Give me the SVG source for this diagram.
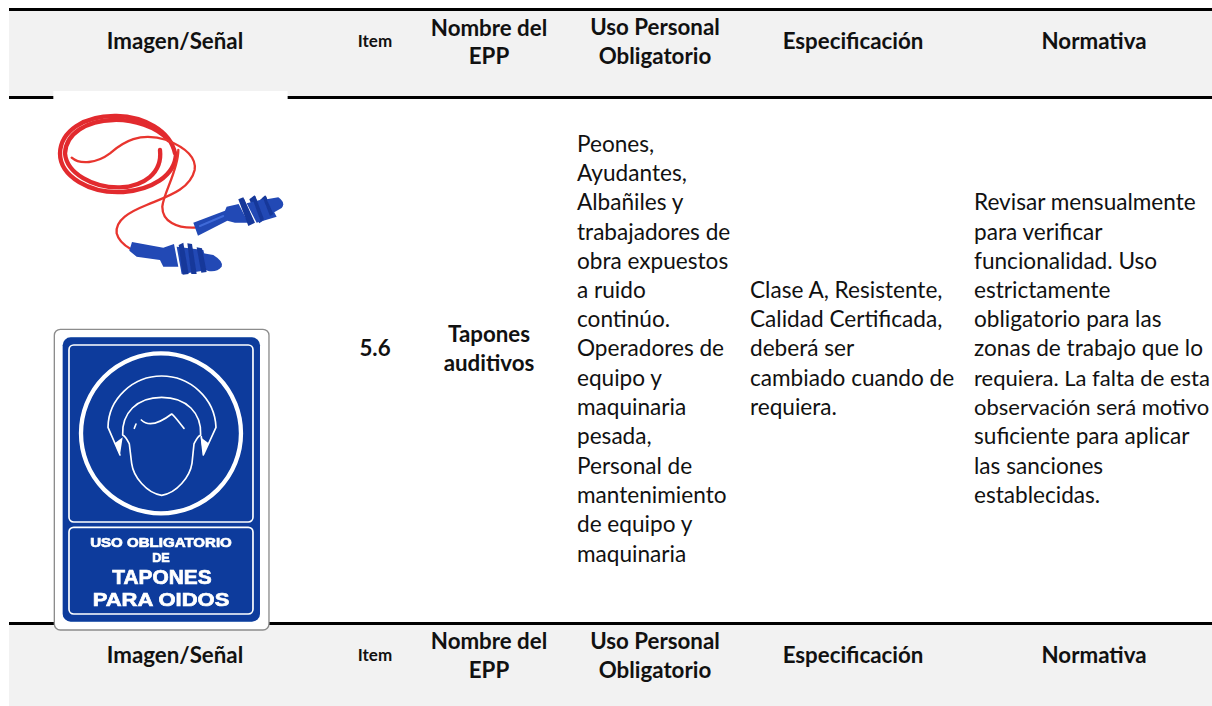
<svg xmlns="http://www.w3.org/2000/svg" width="1212" height="706" viewBox="0 0 1212 706">
<style>
text{font-family:"Lato","Open Sans","Liberation Sans",sans-serif;fill:#111}
.h{font-size:22.3px;font-weight:700;text-anchor:middle}
.s{font-size:17px;font-weight:700;text-anchor:middle}
.b{font-size:22.6px}
.b2{font-size:22px}
.band{fill:#f2f2f2}
.rule{fill:#000}
.cord{fill:none;stroke:#e22a2e;stroke-width:13;stroke-linecap:round}
.cord2{fill:none;stroke:#e8352f;stroke-width:7;stroke-linecap:round}
.plug{fill:#2148b5}
.rib{fill:#18389a}
.hi{fill:none;stroke:#3f6ad8;stroke-width:6;stroke-linecap:round}
.line{fill:none;stroke:#fff;stroke-width:5;stroke-linecap:round;stroke-linejoin:round}
.sg{font-weight:700;fill:#fff;stroke:#fff;stroke-width:2;text-anchor:middle;font-family:"Liberation Sans",sans-serif}
</style>
<defs>
<filter id="soft" x="-5%" y="-5%" width="110%" height="110%"><feGaussianBlur stdDeviation="1.5"/></filter>
<filter id="soft2" x="-2%" y="-2%" width="104%" height="104%"><feGaussianBlur stdDeviation="1"/></filter>
</defs>
<rect width="1212" height="706" fill="#fff"/>
<g id="header-top">
<rect class="band" x="9" y="11" width="1203" height="86"/>
<rect class="rule" x="9" y="8" width="1203" height="3"/>
<rect class="rule" x="9" y="96" width="1203" height="3"/>
<text class="h" x="175" y="49">Imagen/Señal</text>
<text class="s" x="375" y="47">Item</text>
<text class="h" x="489" y="36">Nombre del</text>
<text class="h" x="489" y="64">EPP</text>
<text class="h" x="655" y="35">Uso Personal</text>
<text class="h" x="655" y="64">Obligatorio</text>
<text class="h" x="853" y="49">Especificación</text>
<text class="h" x="1094" y="49">Normativa</text>
</g>
<g id="header-bottom">
<rect class="band" x="9" y="624" width="1203" height="82"/>
<rect class="rule" x="9" y="622" width="1203" height="3"/>
<text class="h" x="175" y="663">Imagen/Señal</text>
<text class="s" x="375" y="661">Item</text>
<text class="h" x="489" y="649">Nombre del</text>
<text class="h" x="489" y="678">EPP</text>
<text class="h" x="655" y="649">Uso Personal</text>
<text class="h" x="655" y="678">Obligatorio</text>
<text class="h" x="853" y="663">Especificación</text>
<text class="h" x="1094" y="663">Normativa</text>
</g>
<g id="earplugs" transform="translate(0,90) scale(0.3333)">
<rect x="160" y="3" width="703" height="646" fill="#fff"/>
<g filter="url(#soft)">
<path class="cord" d="M525,190C510,120 430,80 350,78C250,76 182,125 180,190C180,260 270,312 370,306C450,300 526,260 528,190"/>
<path class="cord" d="M505,150C470,110 400,88 340,90C260,92 198,130 195,190C200,250 280,294 360,292C430,289 488,250 480,180"/>
<path class="cord2" d="M215,203C240,225 290,220 330,190C370,155 420,125 500,150C550,170 590,200 584,240C570,300 500,320 440,345C390,365 345,390 350,430C355,450 370,465 392,477"/>
<path class="cord2" d="M535,180C535,240 490,310 487,350C487,395 530,415 585,413"/>
<path class="plug" d="M580,398L675,362L680,350L716,342L745,398L705,398L682,392L594,437Z"/>
<path class="rib" d="M715,328L730,322L765,398L745,408Z"/>
<path class="rib" d="M748,328L764,316L795,388L778,400Z"/>
<path class="rib" d="M780,330L796,316L824,376L805,385Z"/>
<path class="plug" d="M740,340L800,325L830,380L770,398Z"/>
<path class="rib" d="M722,330L732,326L762,396L750,402Z"/>
<path class="rib" d="M756,322L766,318L792,388L782,394Z"/>
<path class="rib" d="M788,322L798,318L820,372L810,378Z"/>
<path class="plug" d="M800,328L835,322Q858,338 845,354L820,368Z"/>
<path class="hi" d="M600,408L670,378"/>
<path class="plug" d="M388,482L396,456L490,473L522,462L535,530L490,530L480,510L410,500Z"/>
<path class="plug" d="M530,470L610,480L625,540L545,552Z"/>
<path class="rib" d="M536,465L550,458L566,552L548,554Z"/>
<path class="rib" d="M562,460L576,462L590,552L574,552Z"/>
<path class="rib" d="M590,472L606,475L620,546L604,548Z"/>
<path class="plug" d="M610,490L640,495Q672,515 665,530Q650,548 622,542Z"/>
</g>
</g>
<g id="sign" transform="translate(40,320) scale(0.3333)">
<rect x="43" y="28" width="644" height="902" rx="18" fill="#fff" stroke="#8c8c8c" stroke-width="4"/>
<g filter="url(#soft2)">
<rect x="68" y="52" width="592" height="853" rx="24" fill="#083a9c"/>
<rect x="87" y="75" width="552" height="531" rx="14" fill="none" stroke="#fff" stroke-width="5"/>
<rect x="87" y="622" width="552" height="260" rx="14" fill="none" stroke="#fff" stroke-width="5"/>
<circle cx="363" cy="340" r="240" fill="none" stroke="#fff" stroke-width="13"/>
<path class="line" d="M240,405L204,322C205,235 280,168 365,168C450,168 525,235 528,322L490,405L484,350"/>
<path d="M240,405L224,370L248,352Z M490,405L506,370L482,352Z" fill="#fff"/>
<path class="line" d="M248,345C258,350 262,360 268,372L275,430C280,470 320,520 365,526C410,520 450,470 456,430L462,372C468,360 472,350 482,345C485,280 440,232 365,232C290,232 245,280 248,345Z"/>
<path class="line" d="M304,300C330,325 365,305 395,282C410,295 420,312 432,325"/>
<path class="line" d="M283,325L288,312"/>
<text class="sg" x="363" y="681" font-size="38" textLength="425" lengthAdjust="spacingAndGlyphs">USO OBLIGATORIO</text>
<text class="sg" x="363" y="727" font-size="38">DE</text>
<text class="sg" x="366" y="793" font-size="58" textLength="298" lengthAdjust="spacingAndGlyphs">TAPONES</text>
<text class="sg" x="363" y="858" font-size="56" textLength="410" lengthAdjust="spacingAndGlyphs">PARA OIDOS</text>
</g>
</g>
<g id="row-item">
<text class="h" x="375" y="356">5.6</text>
<text class="h" x="489" y="342">Tapones</text>
<text class="h" x="489" y="371">auditivos</text>
</g>
<g id="col-uso">
<text class="b" x="577" y="152">Peones,</text>
<text class="b" x="577" y="181">Ayudantes,</text>
<text class="b" x="577" y="210">Albañiles y</text>
<text class="b" x="577" y="240">trabajadores de</text>
<text class="b" x="577" y="269">obra expuestos</text>
<text class="b" x="577" y="298">a ruido</text>
<text class="b" x="577" y="327">continúo.</text>
<text class="b" x="577" y="356">Operadores de</text>
<text class="b" x="577" y="386">equipo y</text>
<text class="b" x="577" y="415">maquinaria</text>
<text class="b" x="577" y="444">pesada,</text>
<text class="b" x="577" y="474">Personal de</text>
<text class="b" x="577" y="503">mantenimiento</text>
<text class="b" x="577" y="532">de equipo y</text>
<text class="b" x="577" y="562">maquinaria</text>
</g>
<g id="col-espec">
<text class="b" x="750" y="298">Clase A, Resistente,</text>
<text class="b" x="750" y="327">Calidad Certificada,</text>
<text class="b" x="750" y="356">deberá ser</text>
<text class="b" x="750" y="386">cambiado cuando de</text>
<text class="b" x="750" y="415">requiera.</text>
</g>
<g id="col-norma">
<text class="b" x="974" y="210">Revisar mensualmente</text>
<text class="b" x="974" y="240">para verificar</text>
<text class="b" x="974" y="269">funcionalidad. Uso</text>
<text class="b" x="974" y="298">estrictamente</text>
<text class="b" x="974" y="327">obligatorio para las</text>
<text class="b" x="974" y="356">zonas de trabajo que lo</text>
<text class="b2" x="974" y="386">requiera. La falta de esta</text>
<text class="b2" x="974" y="415">observación será motivo</text>
<text class="b" x="974" y="444">suficiente para aplicar</text>
<text class="b" x="974" y="474">las sanciones</text>
<text class="b" x="974" y="503">establecidas.</text>
</g>
</svg>
